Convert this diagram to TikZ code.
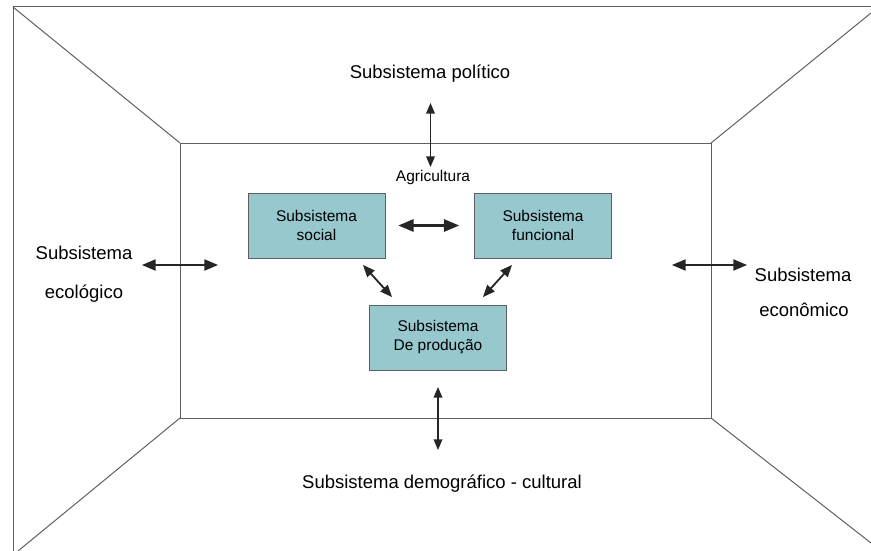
\documentclass[tikz,border=0pt]{standalone}
\usepackage{fontspec}
\setmainfont{Liberation Sans}
\usepackage{tikz}
\usetikzlibrary{arrows}
\definecolor{caixaazul}{RGB}{150,200,206}
\definecolor{linhacinza}{RGB}{95,95,95}
\tikzset{
  parede/.style={draw=linhacinza,line width=1pt},
  caixa/.style={draw=linhacinza,fill=caixaazul,line width=0.9pt,minimum width=137pt,minimum height=65pt,inner sep=0pt,align=center,font=\fontsize{15.5}{19}\selectfont},
  rotulo/.style={font=\fontsize{18.5}{22}\selectfont,align=center},
  seta/.style={draw=black!85,line width=2.2pt,<->,>=triangle 45},
  setafina/.style={draw=black!85,line width=1.5pt,<->,>=triangle 45}
}
\begin{document}
\begin{tikzpicture}[x=1pt,y=-1pt]
			\useasboundingbox (0,0) rectangle (871,551);
			% sala (paredes)
			\coordinate (A) at (13,7);
			\coordinate (B) at (878,7);
			\coordinate (C) at (18,551);
			\coordinate (D) at (871,543);
			\coordinate (P) at (180,143);
			\coordinate (Q) at (711,143);
			\coordinate (R) at (711,418);
			\coordinate (S) at (180,418);
			\draw [parede] (A)-- (B);
			\draw [parede] (A)-- (13,551);
			\draw [parede] (A)-- (P);
			\draw [parede] (871,13)-- (Q);
			\draw [parede] (C)-- (S);
			\draw [parede] (D)-- (R);
			\draw [parede,line width=0.9pt] (P) rectangle (R);
			% subsistemas
			\node [caixa] (social) at (316.5,225.5) {Subsistema\\social};
			\node [caixa] (funcional) at (543,225.5) {Subsistema\\funcional};
			\node [caixa] (producao) at (438,337.5) {Subsistema\\De produção};
			\node [font=\fontsize{15.5}{19}\selectfont] (agri) at (433,177) {Agricultura};
			\node [rotulo] (politico) at (430,74) {Subsistema político};
			\node [rotulo] (ecologico1) at (84,253) {Subsistema};
			\node [rotulo] (ecologico2) at (84,294) {ecológico};
			\node [rotulo] (economico1) at (803,275) {Subsistema};
			\node [rotulo] (economico2) at (804,310) {econômico};
			\node [rotulo] (demografico) at (442,484) {Subsistema demográfico - cultural};
			% setas
			\coordinate (t1) at (430.5,103);
			\coordinate (t2) at (430.5,167);
			\coordinate (b1) at (438,387);
			\coordinate (b2) at (438,450);
			\coordinate (e1) at (142,265);
			\coordinate (e2) at (218,265);
			\coordinate (d1) at (672,265);
			\coordinate (d2) at (747,265);
			\coordinate (s1) at (363,265);
			\coordinate (s2) at (392,297);
			\coordinate (f1) at (512,265);
			\coordinate (f2) at (483,297);
			\draw [setafina] (t1)-- (t2);
			\draw [setafina] (b1)-- (b2);
			\draw [seta] (e1)-- (e2);
			\draw [seta] (d1)-- (d2);
			\draw [seta,line width=2.6pt] ([xshift=13pt]social.east)-- ([xshift=-15pt]funcional.west);
			\draw [seta,line width=1.8pt] (s1)-- (s2);
			\draw [seta,line width=1.8pt] (f1)-- (f2);
		\end{tikzpicture}
\end{document}
